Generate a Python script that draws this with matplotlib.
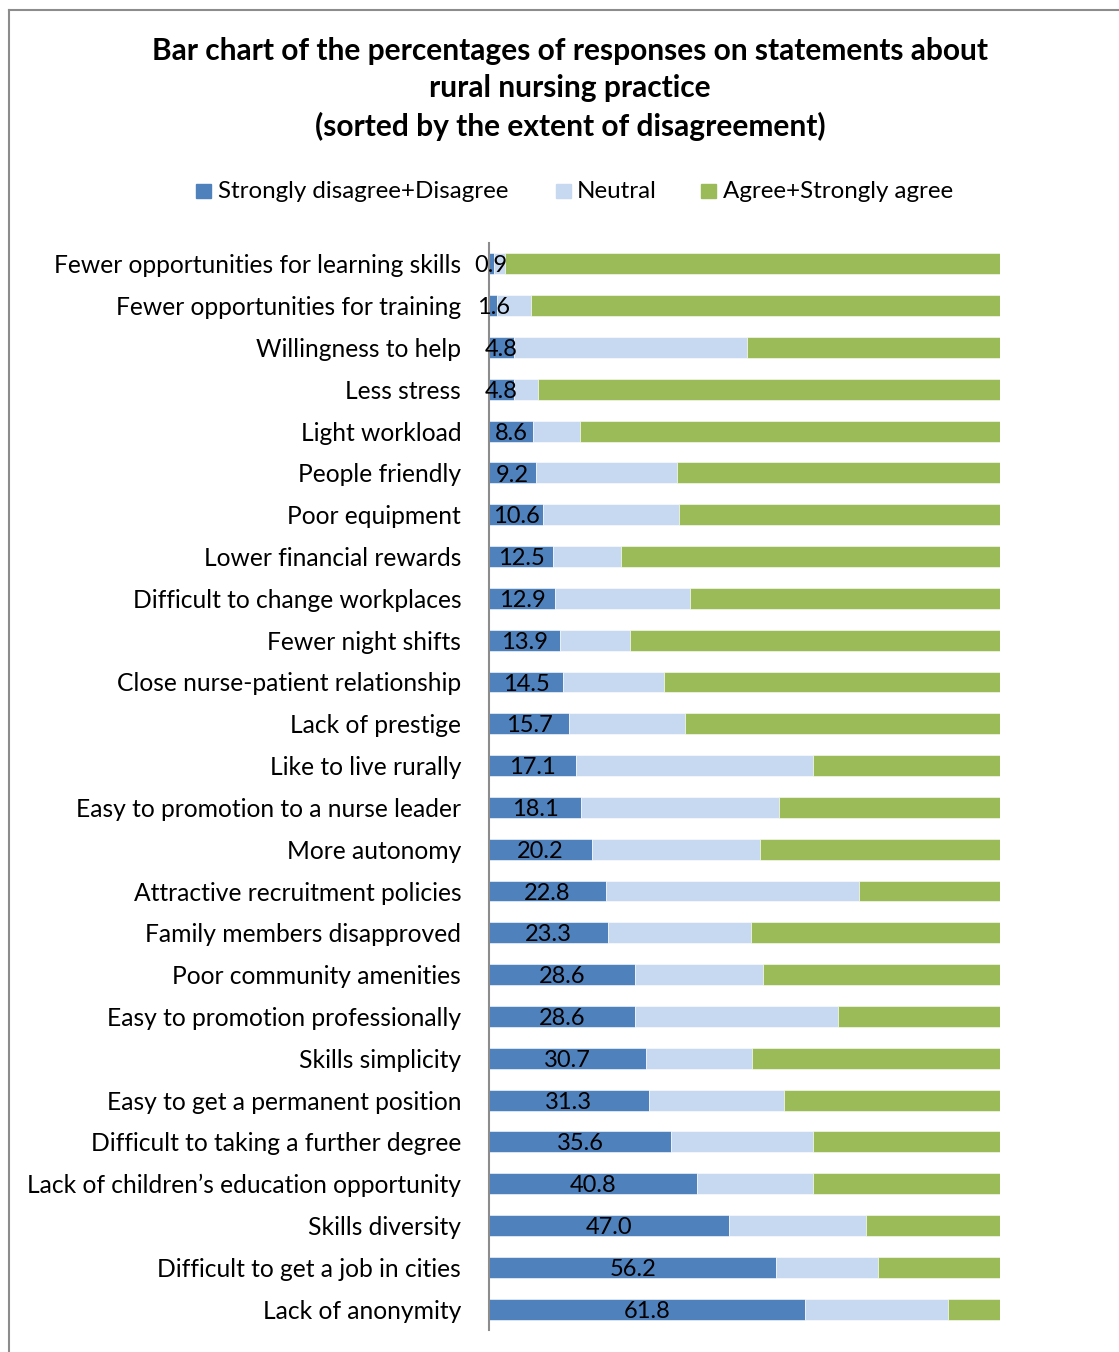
import matplotlib.pyplot as plt
import numpy as np
from matplotlib.patches import Rectangle
from matplotlib.lines import Line2D

plt.rcParams['font.family'] = ['Lato', 'DejaVu Sans']

statements = [
    "Fewer opportunities for learning skills",
    "Fewer opportunities for training",
    "Willingness to help",
    "Less stress",
    "Light workload",
    "People friendly",
    "Poor equipment",
    "Lower financial rewards",
    "Difficult to change workplaces",
    "Fewer night shifts",
    "Close nurse-patient relationship",
    "Lack of prestige",
    "Like to live rurally",
    "Easy to promotion to a nurse leader",
    "More autonomy",
    "Attractive recruitment policies",
    "Family members disapproved",
    "Poor community amenities",
    "Easy to promotion professionally",
    "Skills simplicity",
    "Easy to get a permanent position",
    "Difficult to taking a further degree",
    "Lack of children\u2019s education opportunity",
    "Skills diversity",
    "Difficult to get a job in cities",
    "Lack of anonymity",
]

disagree = [0.9, 1.6, 4.8, 4.8, 8.6, 9.2, 10.6, 12.5, 12.9, 13.9, 14.5, 15.7, 17.1,
            18.1, 20.2, 22.8, 23.3, 28.6, 28.6, 30.7, 31.3, 35.6, 40.8, 47.0, 56.2, 61.8]
neutral = [2.3, 6.7, 45.6, 4.7, 9.2, 27.5, 26.6, 13.4, 26.5, 13.7, 19.8, 22.6, 46.3,
           38.7, 32.8, 49.6, 28.0, 25.1, 39.6, 20.7, 26.4, 27.8, 22.6, 26.8, 19.9, 28.0]

series_names = ["Strongly disagree+Disagree", "Neutral", "Agree+Strongly agree"]
colors = ["#4F81BD", "#C6D9F1", "#9BBB59"]

disagree = np.array(disagree)
neutral = np.array(neutral)
agree = 100 - disagree - neutral

W, H = 1119, 1352
fig = plt.figure(figsize=(W / 100, H / 100), dpi=100)

# outer chart border (left and top edges visible)
fig.add_artist(Line2D([9 / W, 9 / W], [0, 1 - 10 / H], color="#8c8c8c", lw=1.5))
fig.add_artist(Line2D([9 / W, 1], [1 - 10 / H, 1 - 10 / H], color="#8c8c8c", lw=1.5))

ax = fig.add_axes([489 / W, 1 - 1330 / H, 511 / W, 1087 / H])
y = np.arange(len(statements))
h = 0.5
ax.barh(y, disagree, height=h, color=colors[0], edgecolor="white", linewidth=0.4)
ax.barh(y, neutral, left=disagree, height=h, color=colors[1], edgecolor="white", linewidth=0.4)
ax.barh(y, agree, left=disagree + neutral, height=h, color=colors[2], edgecolor="white", linewidth=0.4)

for yi, v in zip(y, disagree):
    ax.text(v / 2, yi + 0.05, f"{v:.1f}", ha="center", va="center", fontsize=17, color="black")

ax.set_xlim(0, 100)
ax.set_ylim(len(statements) - 0.5, -0.5)
ax.set_yticks(y)
ax.set_yticklabels(statements, fontsize=17.7)
ax.tick_params(axis="y", length=0, pad=20)
ax.set_xticks([])
for s in ["top", "right", "bottom"]:
    ax.spines[s].set_visible(False)
ax.spines["left"].set_color("#8c8c8c")
ax.spines["left"].set_linewidth(1.5)

title = ("Bar chart of the percentages of responses on statements about\n"
         "rural nursing practice\n(sorted by the extent of disagreement)")
fig.text(570 / W, 1 - 89 / H, title, ha="center", va="center", fontsize=21.5,
         fontweight="bold", linespacing=1.42)

# legend
leg_y = 1 - 191 / H
items = [(196, 218), (556, 577), (701, 723)]
for (sx, tx), name, c in zip(items, series_names, colors):
    fig.add_artist(Rectangle((sx / W, leg_y - 7 / H), 15 / W, 14 / H, color=c,
                             transform=fig.transFigure))
    fig.text(tx / W, leg_y, name, ha="left", va="center", fontsize=17.4)

fig.savefig("out.png", dpi=100)
